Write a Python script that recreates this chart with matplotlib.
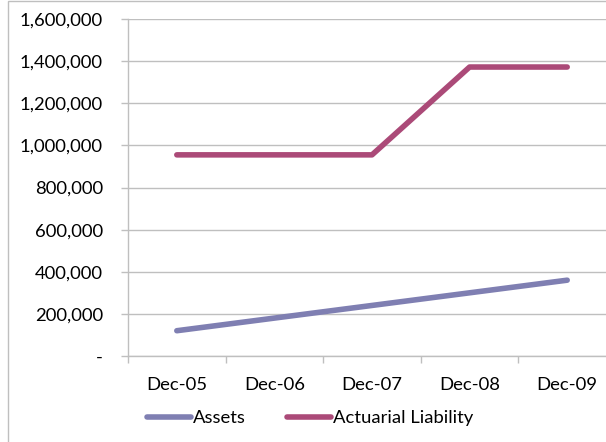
import matplotlib
matplotlib.use("Agg")
import matplotlib.pyplot as plt
from matplotlib.patches import Rectangle
from matplotlib.lines import Line2D

categories = ["Dec-05", "Dec-06", "Dec-07", "Dec-08", "Dec-09"]
assets = [120000, 180000, 240000, 300000, 360000]
liability = [955000, 955000, 955000, 1372000, 1372000]
yticks = [0, 200000, 400000, 600000, 800000, 1000000, 1200000, 1400000, 1600000]
ytick_labels = ["-"] + [f"{v:,}" for v in yticks[1:]]

plt.rcParams['font.family'] = ['Lato', 'DejaVu Sans']

W, H = 606, 442
fig = plt.figure(figsize=(W/100, H/100), dpi=100)
left, right, top, bottom = 128, 616, 19, 356
ax = fig.add_axes([left/W, 1 - bottom/H, (right-left)/W, (bottom-top)/H])

x = list(range(len(categories)))
c_assets = "#7f7fb2"
c_liab = "#ab4a78"
ax.plot(x, assets, color=c_assets, lw=4, solid_capstyle='round', solid_joinstyle='round', zorder=3)
ax.plot(x, liability, color=c_liab, lw=4, solid_capstyle='round', solid_joinstyle='round', zorder=3)

fs = 13.3
ax.set_xlim(-0.5, 4.5)
ax.set_ylim(0, 1600000)
ax.set_yticks(yticks)
ax.set_yticklabels(ytick_labels, fontsize=fs)
ax.set_xticks(x)
ax.set_xticklabels(categories, fontsize=fs)
ax.set_xticks([i - 0.5 for i in range(6)], minor=True)
ax.tick_params(axis='x', which='major', length=0, pad=15)
ax.tick_params(axis='x', which='minor', length=5, color="#bfbfbf", width=1)
ax.tick_params(axis='y', length=5, color="#bfbfbf", width=1, pad=13)
ax.grid(axis='y', color="#bfbfbf", lw=1)
ax.set_axisbelow(True)
for s in ['top', 'right']:
    ax.spines[s].set_visible(False)
for s in ['left', 'bottom']:
    ax.spines[s].set_color("#bfbfbf")
    ax.spines[s].set_linewidth(1)

handles = [Line2D([], [], color=c_assets, lw=4, solid_capstyle='round'),
           Line2D([], [], color=c_liab, lw=4, solid_capstyle='round')]
fig.legend(handles, ["Assets", "Actuarial Liability"], loc='center',
           bbox_to_anchor=(310/W, 1 - 418/H), ncol=2, frameon=False,
           fontsize=fs, handlelength=2.4, handletextpad=0.12, columnspacing=2.2,
           borderpad=0, borderaxespad=0)

fig.add_artist(Rectangle((8/W, -0.1), 2, 1.1 - 1.5/H, transform=fig.transFigure,
                         fill=False, edgecolor="#bfbfbf", lw=1))

fig.savefig("out.png", dpi=100)
